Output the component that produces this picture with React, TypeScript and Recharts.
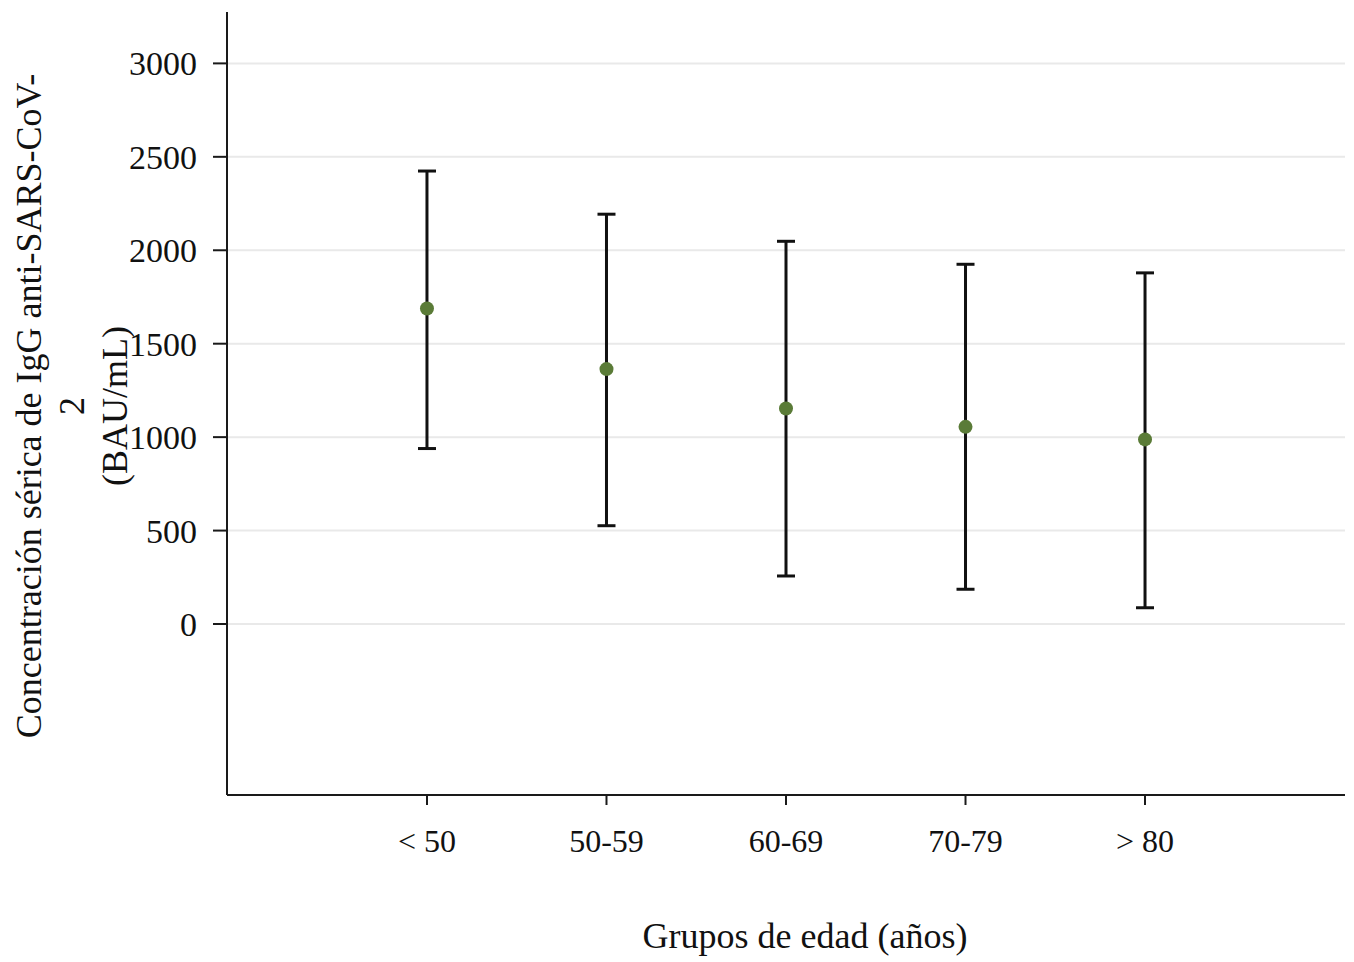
import React from "react";
import { ScatterChart, Scatter, XAxis, YAxis, ReferenceLine, ErrorBar } from "recharts";

const categories = ["< 50", "50-59", "60-69", "70-79", "> 80"];
const means = [1688, 1364, 1153, 1055, 988];
const lowers = [939, 526, 257, 186, 87];
const uppers = [2424, 2193, 2048, 1925, 1879];
const yTicks = [0, 500, 1000, 1500, 2000, 2500, 3000];
const xTicks = [0, 1, 2, 3, 4];

const data = categories.map((c, i) => ({
  x: i,
  name: c,
  y: means[i],
  err: [means[i] - lowers[i], uppers[i] - means[i]],
}));

const FONT = "'Liberation Serif', 'Times New Roman', serif";

const YLabel = (props: any) => {
  const vb = props.viewBox || { x: 0, y: 12, width: 227, height: 783 };
  const cy = 406;
  const lines = ["Concentración sérica de IgG anti-SARS-CoV-", "2", "(BAU/mL)"];
  const xs = [vb.x + 41, vb.x + 84, vb.x + 127];
  return (
    <g>
      {lines.map((t, i) => (
        <text
          key={i}
          x={xs[i]}
          y={cy}
          transform={`rotate(-90 ${xs[i]} ${cy})`}
          textAnchor="middle"
          fontFamily={FONT}
          fontSize={36}
          fill="#111"
        >
          {t}
        </text>
      ))}
    </g>
  );
};

const XLabel = (props: any) => {
  const vb = props.viewBox || { x: 227, y: 795, width: 1118, height: 80 };
  return (
    <text
      x={vb.x + vb.width / 2 + 19}
      y={vb.y + 153}
      textAnchor="middle"
      fontFamily={FONT}
      fontSize={36}
      fill="#111"
    >
      Grupos de edad (años)
    </text>
  );
};

const Dot = (props: any) => (
  <circle cx={props.cx} cy={props.cy} r={7} fill="#5a7b37" />
);

export default function App() {
  return (
    <div style={{ position: "absolute", left: 0, top: 0, width: 1354, height: 962, background: "#fff" }}>
      <ScatterChart
        width={1354}
        height={962}
        margin={{ top: 12, right: 9, left: 0, bottom: 87 }}
      >
        <XAxis
          type="number"
          dataKey="x"
          domain={[-1.114, 5.114]}
          ticks={xTicks}
          tickFormatter={(v: number) => categories[v] ?? ""}
          height={80}
          tickSize={10}
          tickMargin={24}
          axisLine={{ stroke: "#1a1a1a", strokeWidth: 2 }}
          tickLine={{ stroke: "#1a1a1a", strokeWidth: 2 }}
          tick={{ fontFamily: FONT, fontSize: 32, fill: "#111" }}
          allowDataOverflow
          label={<XLabel />}
        />
        <YAxis
          type="number"
          dataKey="y"
          domain={[-915, 3275]}
          ticks={yTicks}
          width={227}
          tickSize={14}
          tickMargin={16}
          axisLine={{ stroke: "#1a1a1a", strokeWidth: 2 }}
          tickLine={{ stroke: "#1a1a1a", strokeWidth: 2 }}
          tick={{ fontFamily: FONT, fontSize: 34, fill: "#111" }}
          allowDataOverflow
          label={<YLabel />}
        />
        {yTicks.map((t) => (
          <ReferenceLine key={t} y={t} stroke="#e9e9e9" strokeWidth={2} ifOverflow="extendDomain" />
        ))}
        <Scatter data={data} isAnimationActive={false} shape={<Dot />}>
          <ErrorBar dataKey="err" direction="y" width={9} stroke="#111" strokeWidth={3} isAnimationActive={false} />
        </Scatter>
      </ScatterChart>
    </div>
  );
}
